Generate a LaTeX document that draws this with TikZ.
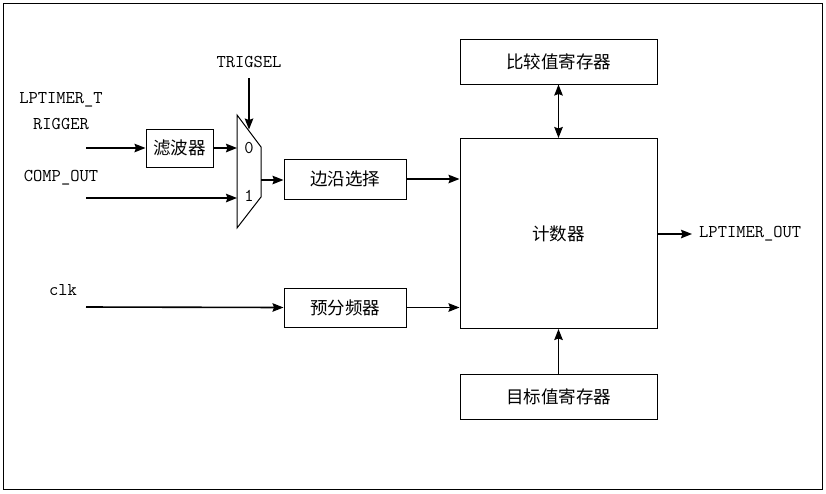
\documentclass[tikz,border=0pt]{standalone}
\usepackage{fontspec}
\newfontfamily\cjk{Noto Sans CJK SC}
\usetikzlibrary{arrows.meta,calc,intersections}
\begin{document}
\begin{tikzpicture}[x=1pt,y=-1pt,
  box/.style={draw,line width=1pt,inner sep=0pt,font=\cjk\fontsize{17.5}{20}\selectfont},
  lab/.style={inner sep=0pt,font=\ttfamily\fontsize{18}{20}\selectfont},
  arr/.style={line width=1.6pt,-{Stealth[length=11pt,width=8.5pt,inset=1.5pt]}},
  darr/.style={line width=1.6pt,{Stealth[length=11pt,width=8.5pt,inset=1.5pt]}-{Stealth[length=11pt,width=8.5pt,inset=1.5pt]}}]
\useasboundingbox (0,0) rectangle (826,493);
\draw[line width=0.8pt] (3,3) rectangle (822,489);
% boxes
\node[box,minimum width=67pt,minimum height=38pt] (filt) at (179.5,148) {滤波器};
\node[box,minimum width=122pt,minimum height=40pt] (edge) at (345,179) {边沿选择};
\node[box,minimum width=122pt,minimum height=39pt] (pre) at (345,307.5) {预分频器};
\node[box,minimum width=197pt,minimum height=190pt] (cnt) at (558.5,233.5) {计数器};
\node[box,minimum width=197pt,minimum height=45pt] (cmp) at (558.5,61.5) {比较值寄存器};
\node[box,minimum width=197pt,minimum height=45pt] (tgt) at (558.5,396.5) {目标值寄存器};
% mux
\draw[line width=1pt] (237,115) -- (261,147) -- (261,197) -- (237,228) -- cycle;
\coordinate (m0) at (237,148);
\coordinate (m1) at (237,198);
\coordinate (mo) at (261,180);
\node[lab] (l0) at (249,148) {0};
\node[lab] (l1) at (249,196) {1};
% labels
\node[lab] (trig) at (249,62) {TRIGSEL};
\node[lab] (lpt1) at (61,100) {LPTIMER\_T};
\node[lab] (lpt2) at (61,124) {RIGGER};
\node[lab] (comp) at (61,178) {COMP\_OUT};
\node[lab] (clk) at (63,290) {clk};
\node[lab,anchor=west] (out) at (699,234) {LPTIMER\_OUT};
\coordinate (s1) at (86,148);
\coordinate (s2) at (86,198);
\coordinate (s3) at (86,307);
\coordinate (ts) at (249,78);
\coordinate (te) at (249,129.5);
\coordinate (oe) at (692,234);
% connectors
\draw[arr] (s1) -- (filt.west);
\draw[arr] (filt.east) -- (m0);
\draw[arr] (s2) -- (m1);
\draw[arr] (ts) -- (te);
\draw[arr] (mo) -- (edge.west |- mo);
\draw[arr] (edge.east) -- (cnt.west |- edge.east);
\draw[arr] (s3) -- (pre.west);
\draw[arr] (pre.east) -- (cnt.west |- pre.east);
\draw[darr] (cmp.south) -- (cnt.north);
\draw[arr] (tgt.north) -- (cnt.south);
\draw[arr] (cnt.east |- oe) -- (oe);
\end{tikzpicture}
\end{document}
